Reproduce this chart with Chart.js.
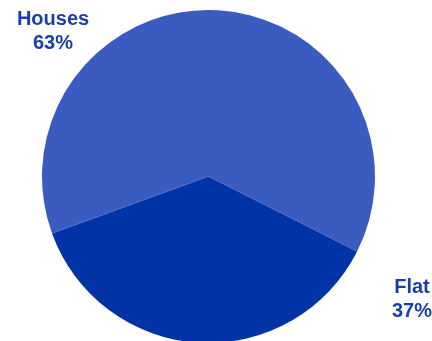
<html>
<head>
    <script src="https://cdn.jsdelivr.net/npm/chart.js@4/dist/chart.umd.min.js"></script>
    <style>
        html, body { margin: 0; padding: 0; background: #fff; overflow: hidden; }
        #pieChart { display: block; }
    </style>
</head>
<body>
    <canvas id="pieChart" width="432" height="350"></canvas>
<script>
    var labels = ["Flat", "Houses"];
    var values = [37, 63];
    var colors = ["#0033a6", "#3a5bbf"];
    // where each label text sits (centre of the two lines)
    var labelSpots = [[412, 299], [53, 31]];

    var cornerLabels = {
        id: 'cornerLabels',
        afterDraw: function (chart) {
            var ctx = chart.ctx;
            ctx.save();
            ctx.fillStyle = "#1a3fa8";
            ctx.font = "bold 20px 'Liberation Sans', Arial, sans-serif";
            ctx.textAlign = "center";
            ctx.textBaseline = "middle";
            var total = values.reduce(function (a, b) { return a + b; }, 0);
            for (var i = 0; i < labels.length; i++) {
                var pct = Math.round(values[i] / total * 100) + "%";
                ctx.fillText(labels[i], labelSpots[i][0], labelSpots[i][1] - 12);
                ctx.fillText(pct, labelSpots[i][0], labelSpots[i][1] + 12);
            }
            ctx.restore();
        }
    };

    var myChart = new Chart(document.getElementById("pieChart"), {
        type: 'pie',
        data: {
            labels: labels,
            datasets: [{
                data: values,
                backgroundColor: colors,
                borderWidth: 0
            }]
        },
        options: {
            responsive: false,
            animation: false,
            rotation: 116.8,
            layout: { padding: { top: 10, bottom: 7, left: 42, right: 57 } },
            plugins: {
                legend: { display: false },
                tooltip: { enabled: false }
            }
        },
        plugins: [cornerLabels]
    });
</script>
</body>
</html>
